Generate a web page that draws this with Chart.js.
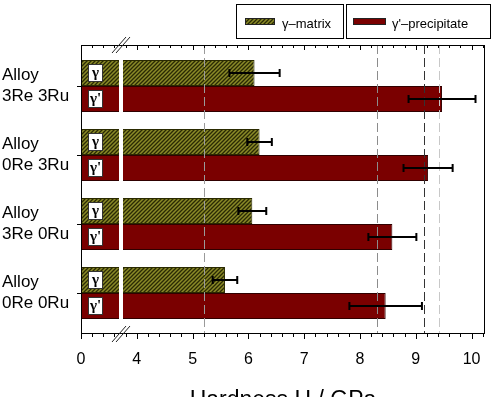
<!DOCTYPE html>
<html>
<head>
<meta charset="utf-8">
<script src="https://cdn.jsdelivr.net/npm/chart.js@4.4.0/dist/chart.umd.min.js"></script>
<style>
  html, body { margin: 0; padding: 0; background: #fff; }
  #c { display: block; }
</style>
</head>
<body>
<canvas id="c" width="500" height="397"></canvas>
<script>
// values (GPa)
const alloys = ['3Re 3Ru', '0Re 3Ru', '3Re 0Ru', '0Re 0Ru'];
const gammaH = [6.11, 6.20, 6.07, 5.58];
const gammaErr = [0.45, 0.22, 0.25, 0.22];
const primeH = [9.47, 9.22, 8.58, 8.46];
const primeErr = [0.60, 0.44, 0.43, 0.65];
const xTickLabels = ['0', '4', '5', '6', '7', '8', '9', '10'];
const refLines = [5.21, 8.31, 9.15, 9.41];
const refColors = ['#9a9a9a', '#8c8c8c', '#333333', '#c8c8c8'];
const seriesNames = ['\u03b3\u2013matrix', '\u03b3\'\u2013precipitate'];
const tagNames = ['\u03b3', '\u03b3\''];

const FONT = '"Liberation Sans", Arial, sans-serif';

// broken axis: 0..4 squeezed into one unit, then one unit per GPa
function toAxis(h) {
    return h >= 4 ? h - 3 : h / 4;
}
const BREAK = 0.72;   // axis position of the break
const X_MAX = 7.24;

//---------------------------------
// hatch for the gamma matrix
function makeHatch() {
    const p = document.createElement('canvas');
    p.width = 4; p.height = 4;
    const g = p.getContext('2d');
    g.fillStyle = '#8a8a28';
    g.fillRect(0, 0, 4, 4);
    g.strokeStyle = '#2a2a04';
    g.lineWidth = 1.3;
    g.beginPath();
    g.moveTo(-1, 5); g.lineTo(5, -1);
    g.moveTo(-1, 1); g.lineTo(1, -1);
    g.moveTo(3, 5); g.lineTo(5, 3);
    g.stroke();
    return document.getElementById('c').getContext('2d').createPattern(p, 'repeat');
}
const hatch = makeHatch();
const red = '#7a0000';

//---------------------------------
// error bars, reference lines, break, tags, frame, ticks, legend
const extras = {
    id: 'extras',
    afterDatasetsDraw(chart) {
        const { ctx, chartArea: a, scales: { x } } = chart;
        ctx.save();

        // dashed reference lines
        ctx.lineWidth = 1;
        ctx.setLineDash([9, 4]);
        refLines.forEach((h, i) => {
            const px = Math.round(x.getPixelForValue(toAxis(h))) + 0.5;
            ctx.strokeStyle = refColors[i];
            ctx.beginPath();
            ctx.moveTo(px, a.top);
            ctx.lineTo(px, a.bottom);
            ctx.stroke();
        });
        ctx.setLineDash([]);

        // error bars
        const vals = [gammaH, primeH];
        const errs = [gammaErr, primeErr];
        ctx.strokeStyle = '#000';
        ctx.lineWidth = 2;
        chart.data.datasets.forEach((ds, d) => {
            chart.getDatasetMeta(d).data.forEach((bar, i) => {
                const x0 = x.getPixelForValue(toAxis(vals[d][i] - errs[d][i]));
                const x1 = x.getPixelForValue(toAxis(vals[d][i] + errs[d][i]));
                const y = Math.round(bar.y);
                ctx.beginPath();
                ctx.moveTo(x0, y); ctx.lineTo(x1, y);
                ctx.moveTo(x0, y - 4); ctx.lineTo(x0, y + 4);
                ctx.moveTo(x1, y - 4); ctx.lineTo(x1, y + 4);
                ctx.stroke();
            });
        });

        // white gap of the axis break
        const b0 = Math.round(x.getPixelForValue(BREAK)) - 2;
        ctx.fillStyle = '#fff';
        ctx.fillRect(b0, a.top + 1, 4, a.bottom - a.top - 2);

        // gamma / gamma' tags inside the bars
        chart.data.datasets.forEach((ds, d) => {
            chart.getDatasetMeta(d).data.forEach((bar) => {
                const bx = a.left + 7, by = Math.round(bar.y) - 9;
                ctx.fillStyle = '#fff';
                ctx.fillRect(bx, by, 15, 18);
                ctx.strokeStyle = '#333';
                ctx.lineWidth = 1;
                ctx.strokeRect(bx + 0.5, by + 0.5, 14, 17);
                ctx.fillStyle = '#000';
                ctx.font = 'bold 15px "Liberation Serif", serif';
                ctx.textAlign = 'center';
                ctx.textBaseline = 'middle';
                ctx.fillText(tagNames[d], bx + 7.5, by + 9);
            });
        });
        ctx.restore();
    },
    afterDraw(chart) {
        const { ctx, chartArea: a, scales: { x, y } } = chart;
        ctx.save();
        ctx.strokeStyle = '#000';
        ctx.lineWidth = 1;

        // frame
        ctx.strokeRect(a.left + 0.5, a.top + 0.5, a.right - a.left - 1, a.bottom - a.top - 1);

        // x ticks: top inward, bottom outward
        ctx.beginPath();
        for (let k = 0; k * 0.2 <= X_MAX + 1e-6; k++) {
            const px = Math.round(x.getPixelForValue(k * 0.2)) + 0.5;
            const len = (k % 5 === 0) ? 5 : 3;
            ctx.moveTo(px, a.top); ctx.lineTo(px, a.top + len);
            ctx.moveTo(px, a.bottom); ctx.lineTo(px, a.bottom + len);
        }
        // y ticks, outward
        alloys.forEach((c, i) => {
            const py = Math.round(y.getPixelForValue(i)) + 0.5;
            ctx.moveTo(a.left - 4, py); ctx.lineTo(a.left, py);
        });
        ctx.stroke();

        // break marks
        const b0 = Math.round(x.getPixelForValue(BREAK)) - 2;
        ctx.strokeStyle = '#222';
        ctx.beginPath();
        [a.top, a.bottom].forEach((ay) => {
            [b0, b0 + 4].forEach((bx) => {
                ctx.moveTo(bx - 7, ay + 8);
                ctx.lineTo(bx + 7, ay - 8);
            });
        });
        ctx.stroke();

        // legend boxes
        const legendBoxes = [[236.5, 4.5, 107, 34, 245, 30, 282], [346.5, 4.5, 144, 34, 353, 33, 392]];
        ctx.font = '13px ' + FONT;
        ctx.textAlign = 'left';
        ctx.textBaseline = 'alphabetic';
        chart.data.datasets.forEach((ds, d) => {
            const [bx, by, bw, bh, sx, sw, tx] = legendBoxes[d];
            ctx.strokeStyle = '#000';
            ctx.lineWidth = 1;
            ctx.strokeRect(bx, by, bw, bh);
            ctx.fillStyle = ds.backgroundColor;
            ctx.fillRect(sx, 18, sw, 7);
            ctx.strokeStyle = '#222';
            ctx.strokeRect(sx + 0.5, 18.5, sw - 1, 6);
            ctx.fillStyle = '#000';
            ctx.fillText(ds.label, tx, 28);
        });
        ctx.restore();
    }
};

//---------------------------------
// chart
const ctx = document.getElementById('c');

new Chart(ctx, {
    type: 'bar',
    data: {
        datasets: [{
            label: seriesNames[0],
            data: alloys.map((c, i) => ({ x: toAxis(gammaH[i]), y: i })),
            backgroundColor: hatch,
            borderColor: '#2a2a00',
            borderWidth: 1
        }, {
            label: seriesNames[1],
            data: alloys.map((c, i) => ({ x: toAxis(primeH[i]), y: i })),
            backgroundColor: red,
            borderColor: '#300000',
            borderWidth: 1
        }]
    },
    options: {
        indexAxis: 'y',
        responsive: false,
        animation: false,
        devicePixelRatio: 1,
        categoryPercentage: 0.754,
        barPercentage: 1,
        layout: { padding: { top: 45, right: 15, bottom: 0, left: 2 } },
        plugins: {
            legend: { display: false },
            tooltip: { enabled: false }
        },
        scales: {
            x: {
                type: 'linear',
                min: 0,
                max: X_MAX,
                afterBuildTicks: (scale) => {
                    scale.ticks = xTickLabels.map((t, i) => ({ value: i }));
                },
                afterFit: (scale) => { scale.height = 63; },
                grid: { display: false },
                border: { display: false },
                ticks: {
                    color: '#000',
                    font: { family: FONT, size: 16 },
                    padding: 8,
                    maxRotation: 0,
                    callback: (v, i) => xTickLabels[i]
                },
                title: {
                    display: true,
                    text: 'Hardness H / GPa',
                    color: '#000',
                    font: { family: FONT, size: 23, lineHeight: 1 },
                    padding: { top: 0, bottom: -15 }
                }
            },
            y: {
                type: 'linear',
                reverse: true,
                offset: false,
                min: -0.594,
                max: 3.594,
                afterBuildTicks: (scale) => {
                    scale.ticks = alloys.map((c, i) => ({ value: i }));
                },
                afterFit: (scale) => { scale.width = 79; },
                grid: { display: false },
                border: { display: false },
                ticks: {
                    color: '#000',
                    crossAlign: 'far',
                    font: { family: FONT, size: 17 },
                    callback: (v, i) => ['Alloy', alloys[i]]
                }
            }
        }
    },
    plugins: [extras]
});
</script>
</body>
</html>
